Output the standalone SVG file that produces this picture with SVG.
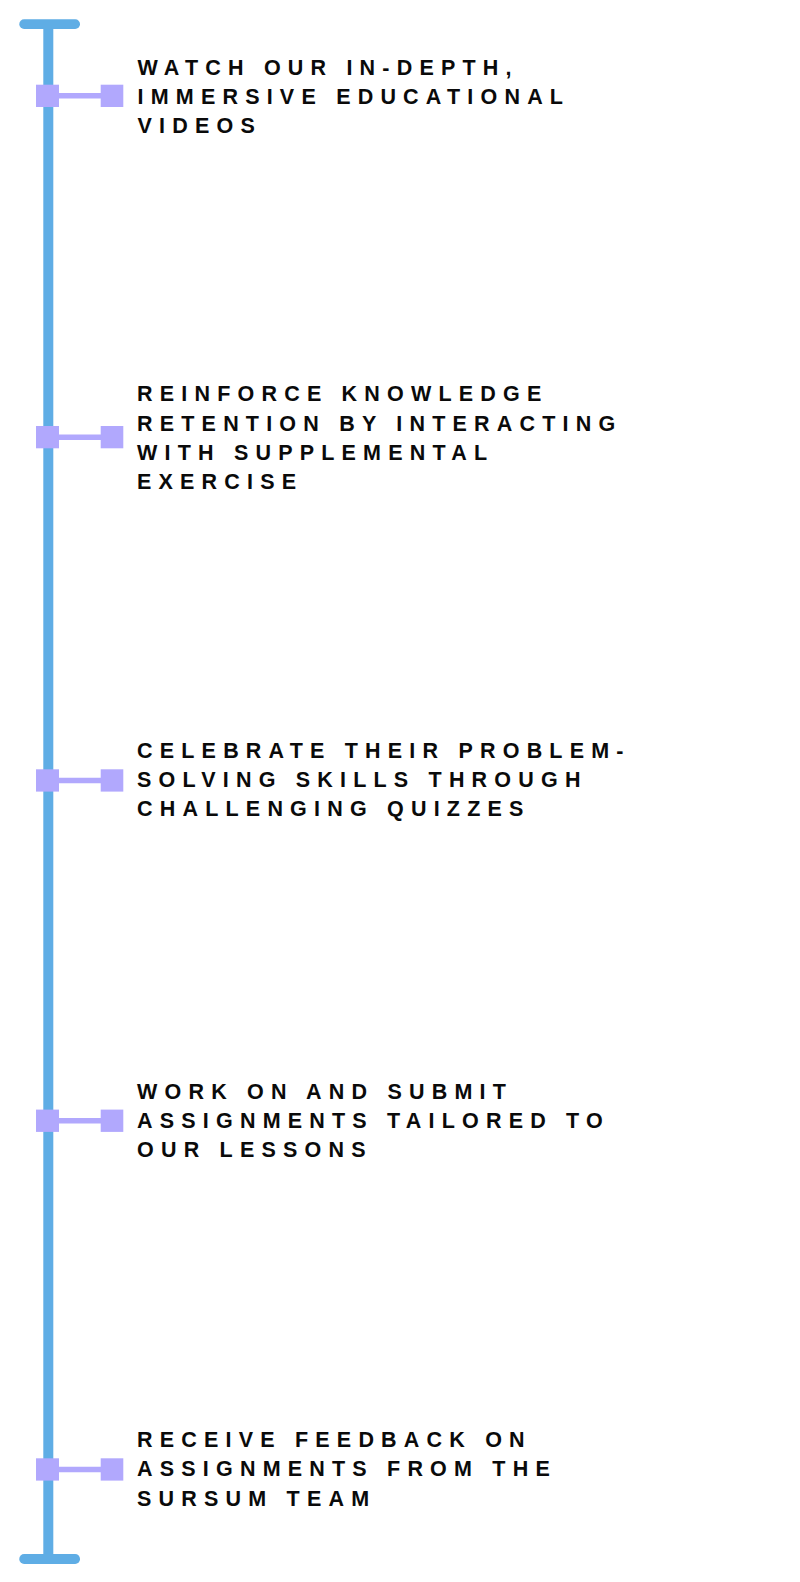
<svg xmlns="http://www.w3.org/2000/svg" width="800" height="1582" viewBox="0 0 800 1582">
  <style>
    .spine { fill: #5fade5; }
    .pin { fill: #b1a8fd; }
    .link { stroke: #b1a8fd; stroke-width: 5.4; fill: none; }
    .label { font-family: "Liberation Sans", Arial, sans-serif; font-weight: bold; font-size: 21.5px; letter-spacing: 7.2px; fill: #0a0a0a; }
  </style>
  <rect width="800" height="1582" fill="#ffffff"/>

  <!-- vertical timeline with end caps -->
  <g id="timeline">
    <rect class="spine" x="43.3" y="24" width="10" height="1535"/>
    <rect class="spine" x="19.3" y="19.3" width="60.7" height="9.7" rx="4.8"/>
    <rect class="spine" x="19.3" y="1554" width="60.7" height="10" rx="4.8"/>
  </g>

  <!-- short links from the spine to each step marker -->
  <g id="connectors">
    <line class="link" x1="59" y1="95.8" x2="101" y2="95.8"/>
    <line class="link" x1="59" y1="437.2" x2="101" y2="437.2"/>
    <line class="link" x1="59" y1="780.5" x2="101" y2="780.5"/>
    <line class="link" x1="59" y1="1120.8" x2="101" y2="1120.8"/>
    <line class="link" x1="59" y1="1469.5" x2="101" y2="1469.5"/>
  </g>

  <g id="step-1">
    <rect class="pin" x="36" y="84.7" width="23" height="22.3"/>
    <rect class="pin" x="100.7" y="84.7" width="22.6" height="22.3"/>
    <text class="label" x="137.5" y="74.6">WATCH OUR IN-DEPTH,</text>
    <text class="label" x="137.5" y="103.8">IMMERSIVE EDUCATIONAL</text>
    <text class="label" x="137.5" y="133">VIDEOS</text>
  </g>

  <g id="step-2">
    <rect class="pin" x="36" y="426" width="23" height="22.3"/>
    <rect class="pin" x="100.7" y="426" width="22.6" height="22.3"/>
    <text class="label" x="137" y="401.3">REINFORCE KNOWLEDGE</text>
    <text class="label" x="137" y="430.5">RETENTION BY INTERACTING</text>
    <text class="label" x="137" y="459.7">WITH SUPPLEMENTAL</text>
    <text class="label" x="137" y="488.9">EXERCISE</text>
  </g>

  <g id="step-3">
    <rect class="pin" x="36" y="769.3" width="23" height="22.3"/>
    <rect class="pin" x="100.7" y="769.3" width="22.6" height="22.3"/>
    <text class="label" x="137" y="757.8">CELEBRATE THEIR PROBLEM-</text>
    <text class="label" x="137" y="787">SOLVING SKILLS THROUGH</text>
    <text class="label" x="137" y="816.2">CHALLENGING QUIZZES</text>
  </g>

  <g id="step-4">
    <rect class="pin" x="36" y="1109.6" width="23" height="22.3"/>
    <rect class="pin" x="100.7" y="1109.6" width="22.6" height="22.3"/>
    <text class="label" x="137" y="1098.6">WORK ON AND SUBMIT</text>
    <text class="label" x="137" y="1127.8">ASSIGNMENTS TAILORED TO</text>
    <text class="label" x="137" y="1157">OUR LESSONS</text>
  </g>

  <g id="step-5">
    <rect class="pin" x="36" y="1458.3" width="23" height="22.3"/>
    <rect class="pin" x="100.7" y="1458.3" width="22.6" height="22.3"/>
    <text class="label" x="137" y="1447.1">RECEIVE FEEDBACK ON</text>
    <text class="label" x="137" y="1476.3">ASSIGNMENTS FROM THE</text>
    <text class="label" x="137" y="1505.5">SURSUM TEAM</text>
  </g>
</svg>
